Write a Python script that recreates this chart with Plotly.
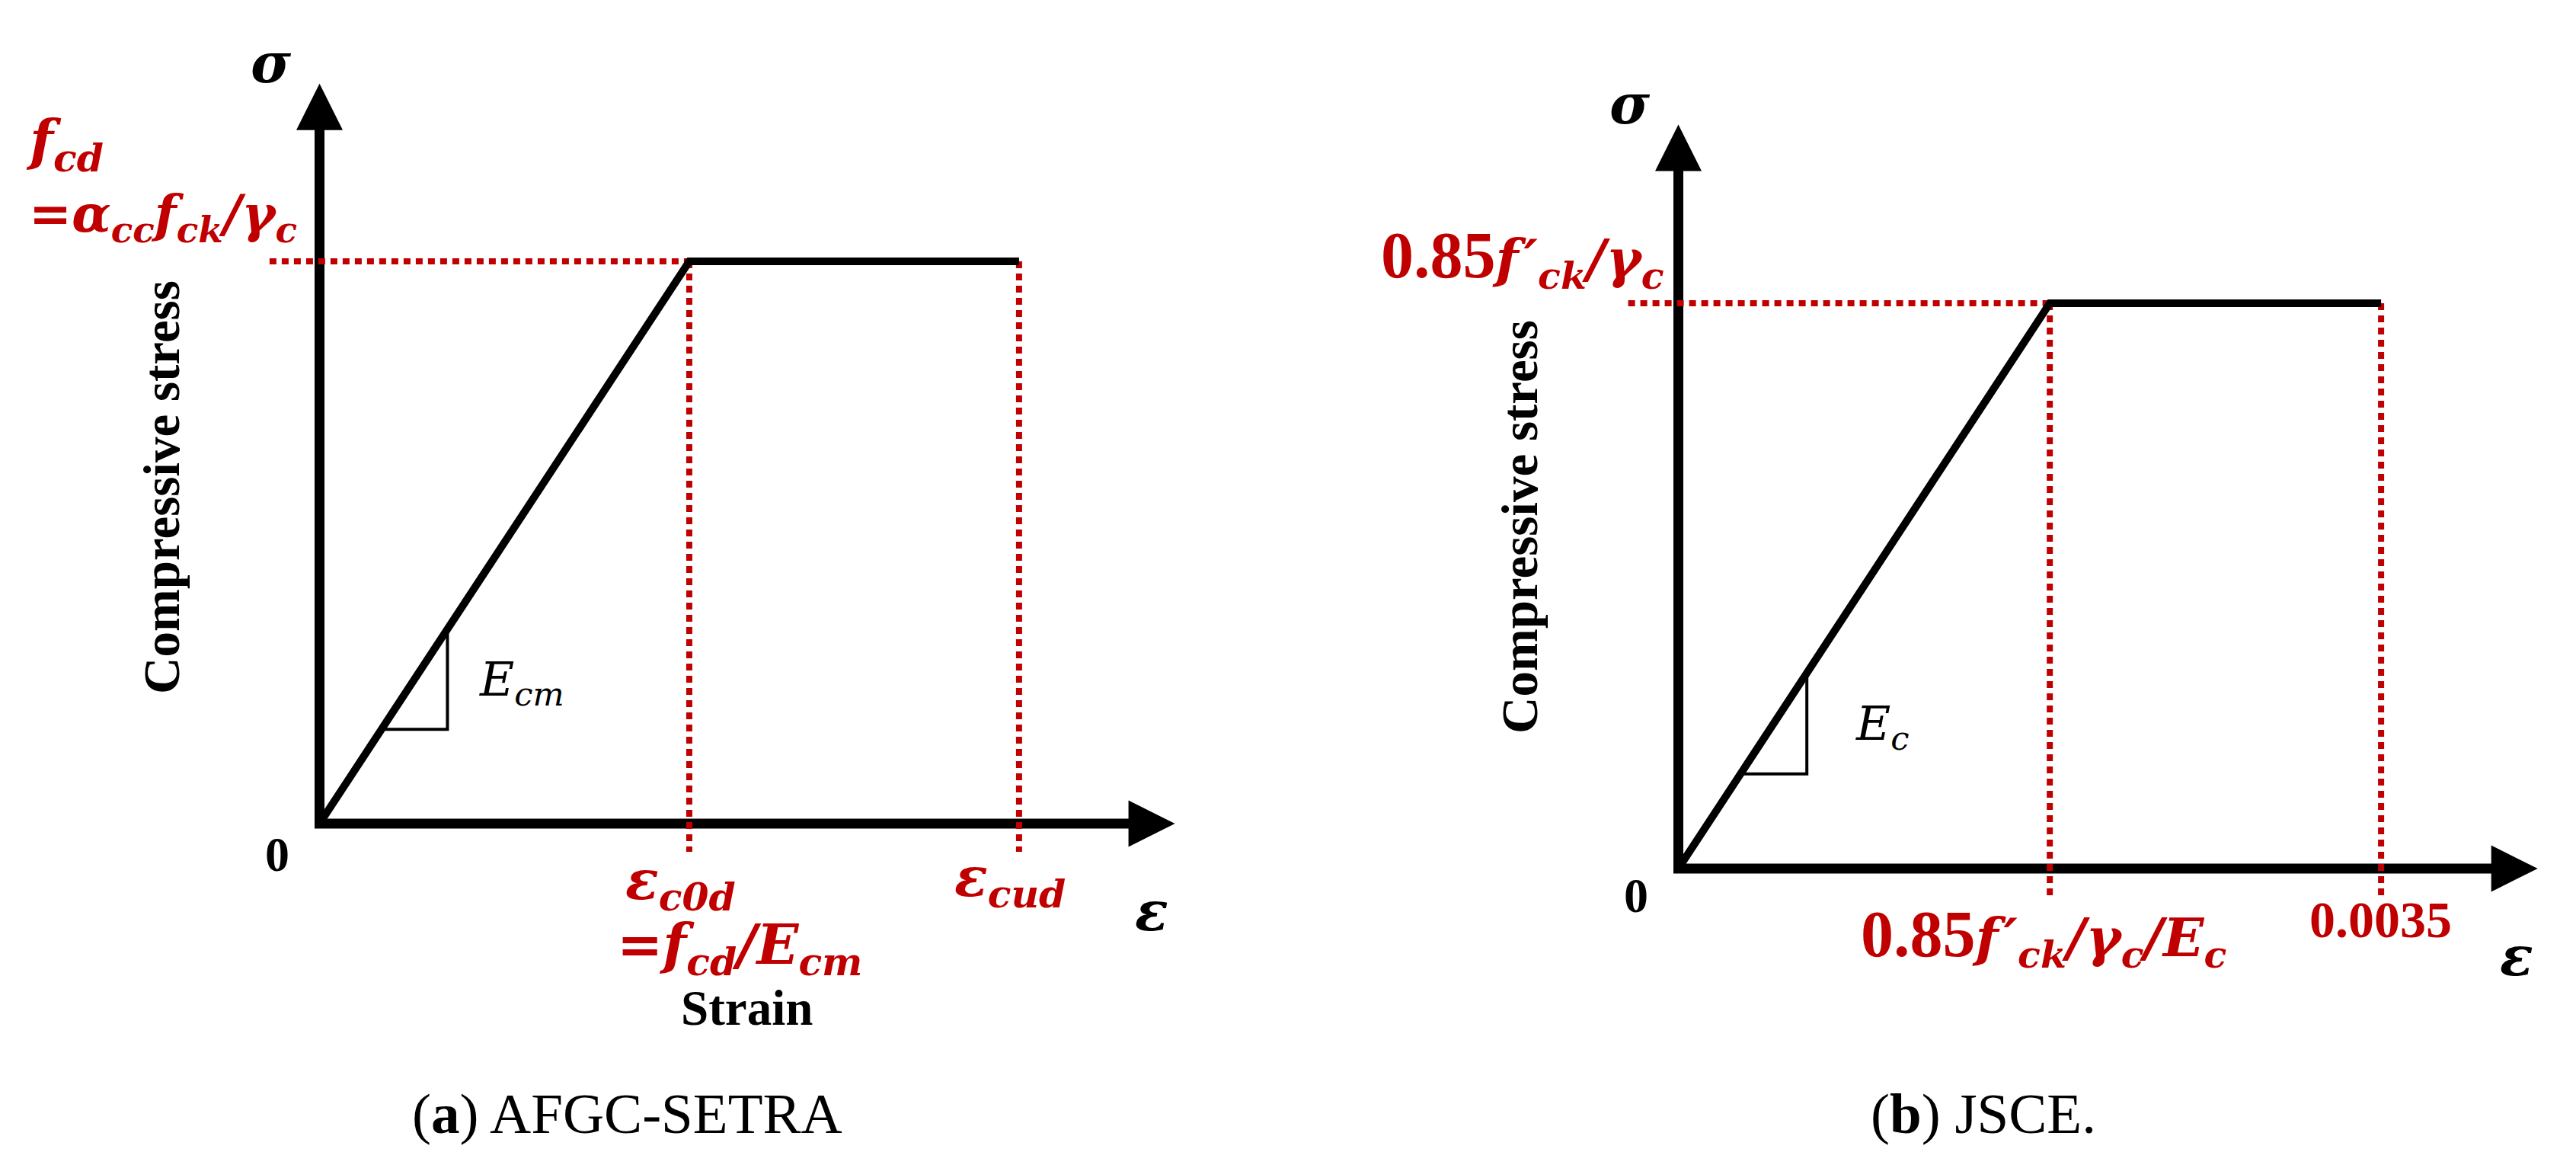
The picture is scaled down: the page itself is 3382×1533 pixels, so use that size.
import plotly.graph_objects as go

W, H = 3382, 1533

# ---- values (strain in per mille, stress normalised) ----
strain_afgc = [0.0, 1.85, 3.5]     # 0, eps_c0d, eps_cud
stress_afgc = [0.0, 1.0, 1.0]      # 0, f_cd, f_cd
strain_jsce = [0.0, 1.85, 3.5]     # 0, 0.85f'ck/gc/Ec, 0.0035
stress_jsce = [0.0, 1.0, 1.0]
slope_leg = [0.31, 0.64]           # strain span of the little slope triangle
axis_end = [4.28, 1.316]           # arrow tips: strain, stress

RED = "#C00000"
MATH = "DejaVu Serif"
SERIF = "Liberation Serif"

# pixel placement of each panel: origin and pixels per unit
panels = [
    dict(strain=strain_afgc, stress=stress_afgc, ox=419.5, oy=1081, sx=262.4, sy=738, xa="x", ya="y"),
    dict(strain=strain_jsce, stress=stress_jsce, ox=2203.5, oy=1140, sx=263.6, sy=742, xa="x2", ya="y2"),
]

fig = go.Figure()


def line(p, x, y, color="black", width=10, dash=None, fill=None):
    fig.add_trace(go.Scatter(
        x=x, y=y, mode="lines", xaxis=p["xa"], yaxis=p["ya"],
        line=dict(color=color, width=width, dash=dash),
        fill=fill, fillcolor=color if fill else None,
        hoverinfo="skip", showlegend=False,
    ))


for p in panels:
    sx, sy = p["sx"], p["sy"]
    xt, yt = axis_end
    hl, hw = 61, 61  # arrowhead length / width in px
    strain, stress = p["strain"], p["stress"]
    e1, eu, f = strain[1], strain[2], stress[1]

    # axes with arrowheads
    line(p, [0, 0, xt - 0.7 * hl / sx], [yt - 0.7 * hl / sy, 0, 0], width=13)
    line(p, [xt, xt - hl / sx, xt - hl / sx, xt], [0, hw / 2 / sy, -hw / 2 / sy, 0], width=0, fill="toself")
    line(p, [0, hw / 2 / sx, -hw / 2 / sx, 0], [yt, yt - hl / sy, yt - hl / sy, yt], width=0, fill="toself")

    # red dotted guides
    line(p, [-0.25, e1], [f, f], color=RED, width=8, dash="9px,7px")
    line(p, [e1, e1, None, eu, eu], [f, -0.05, None, f, -0.05], color=RED, width=8, dash="9px,7px")

    # bilinear stress-strain curve
    line(p, strain, stress, width=10)

    # slope triangle
    k = f / e1
    x0, x1 = slope_leg
    line(p, [x0, x1, x1], [x0 * k, x0 * k, x1 * k], width=4)


def label(text, x, y, size, color="black", family=MATH, xanchor="center",
          angle=0, weight="bold", style="italic"):
    fig.add_annotation(
        x=x / W, y=1 - y / H, xref="paper", yref="paper", text=text,
        showarrow=False, xanchor=xanchor, yanchor="middle", textangle=angle,
        font=dict(family=family, size=size, color=color, weight=weight, style=style),
    )


UP = '<span style="font-family:Liberation Serif;font-style:normal;font-size:86px">0.85</span>'
FP = "f\u200a′"

# panel (a)
label("σ", 356, 83, 72)
label("f<sub>cd</sub>", 32, 189, 72, RED, xanchor="left")
label("=α<sub>cc</sub>f<sub>ck</sub>/γ<sub>c</sub>", 36, 285, 67, RED, xanchor="left")
label("Compressive stress", 212, 640, 67, family=SERIF, angle=-90, style="normal")
label("0", 364, 1121, 64, family=SERIF, style="normal")
label("E<sub>cm</sub>", 627, 895, 62, xanchor="left", weight="normal")
label("ε<sub>c0d</sub>", 894, 1159, 72, RED)
label("=f<sub>cd</sub>/E<sub>cm</sub>", 971, 1244, 72, RED)
label("Strain", 980, 1323, 65, family=SERIF, style="normal")
label("ε<sub>cud</sub>", 1326, 1155, 72, RED)
label("ε", 1512, 1195, 72)
label("(<b>a</b>) AFGC-SETRA", 823, 1461, 75, family=SERIF, weight="normal", style="normal")

# panel (b)
label("σ", 2140, 136, 72)
label(UP + FP + "<sub>ck</sub>/γ<sub>c</sub>", 2187, 339, 70, RED, xanchor="right")
label("Compressive stress", 1995, 692, 67, family=SERIF, angle=-90, style="normal")
label("0", 2148, 1175, 64, family=SERIF, style="normal")
label("E<sub>c</sub>", 2434, 953, 62, xanchor="left", weight="normal")
label(UP + FP + "<sub>ck</sub>/γ<sub>c</sub>/E<sub>c</sub>", 2683, 1230, 70, RED)
label("0.0035", 3125, 1207, 68, RED, family=SERIF, style="normal")
label("ε", 3304, 1254, 72)
label("(<b>b</b>) JSCE.", 2604, 1461, 75, family=SERIF, weight="normal", style="normal")

axis_common = dict(visible=False, showgrid=False, zeroline=False, fixedrange=True)
p0, p1 = panels
fig.update_layout(
    width=W, height=H,
    margin=dict(l=0, r=0, t=0, b=0),
    plot_bgcolor="white", paper_bgcolor="white",
    xaxis=dict(domain=[0, 1], range=[-p0["ox"] / p0["sx"], (W - p0["ox"]) / p0["sx"]], **axis_common),
    yaxis=dict(domain=[0, 1], range=[(p0["oy"] - H) / p0["sy"], p0["oy"] / p0["sy"]], **axis_common),
    xaxis2=dict(domain=[0, 1], overlaying="x", range=[-p1["ox"] / p1["sx"], (W - p1["ox"]) / p1["sx"]], **axis_common),
    yaxis2=dict(domain=[0, 1], overlaying="y", range=[(p1["oy"] - H) / p1["sy"], p1["oy"] / p1["sy"]], **axis_common),
)

fig.write_html("out.html", config={"displayModeBar": False},
               post_script="document.body.style.margin='0';")
